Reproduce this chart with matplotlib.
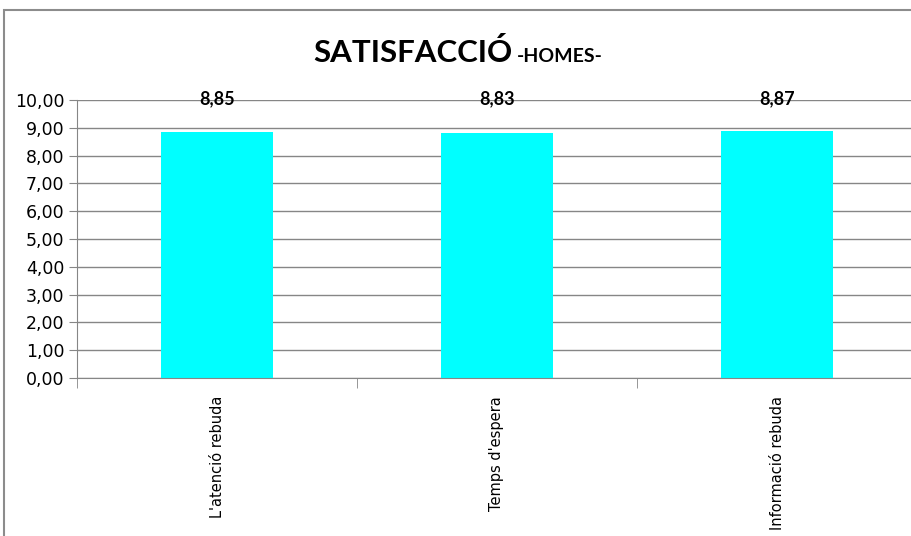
import matplotlib.pyplot as plt
from matplotlib.patches import Rectangle

categories = ["L'atenció rebuda", "Temps d'espera", "Informació rebuda"]
scores = [8.85, 8.83, 8.87]
yticks = [0, 1, 2, 3, 4, 5, 6, 7, 8, 9, 10]

W, H = 911, 536
fig = plt.figure(figsize=(W / 100, H / 100), dpi=100)

# chart frame (runs off the right and bottom edge)
fig.patches.append(Rectangle((4 / W, -0.1), 1.2, 1.1 - 10 / H,
                             transform=fig.transFigure, fill=False,
                             edgecolor='#8c8c8c', linewidth=1.5))

ax = fig.add_axes([77 / W, 1 - 378 / H, 840 / W, 278 / H])
x = range(len(categories))
ax.bar(x, scores, width=0.4, color='#00ffff', zorder=2)

ax.set_xlim(-0.5, 2.5)
ax.set_ylim(0, 10)
ax.set_yticks(yticks)
ax.set_yticklabels(['%d,00' % v for v in yticks], fontsize=12.5)
ax.yaxis.grid(True, color='#868686', linewidth=1)
ax.set_axisbelow(True)

ax.set_xticks(list(x))
ax.set_xticklabels(categories, rotation=90, va='top', fontsize=10.5)
ax.set_xticks([-0.5, 0.5, 1.5, 2.5], minor=True)
ax.tick_params(axis='x', which='major', length=0, pad=13)
ax.tick_params(axis='x', which='minor', length=7, color='#868686')
ax.tick_params(axis='y', length=6, color='#868686', pad=3)

for side in ['top', 'right']:
    ax.spines[side].set_visible(False)
for side in ['left', 'bottom']:
    ax.spines[side].set_color('#868686')

for i, v in enumerate(scores):
    ax.text(i, 9.86, ('%.2f' % v).replace('.', ','), ha='center',
            va='baseline', fontsize=13, fontweight='bold',
            family='Lato', clip_on=False)

fig.text(513 / W, 1 - 62 / H, 'SATISFACCIÓ', ha='right', va='baseline',
         fontsize=22.5, fontweight='bold', family='Lato')
fig.text(517 / W, 1 - 62 / H, '-HOMES-', ha='left', va='baseline',
         fontsize=14, fontweight='bold', family='Lato')

fig.savefig('out.png', dpi=100)
